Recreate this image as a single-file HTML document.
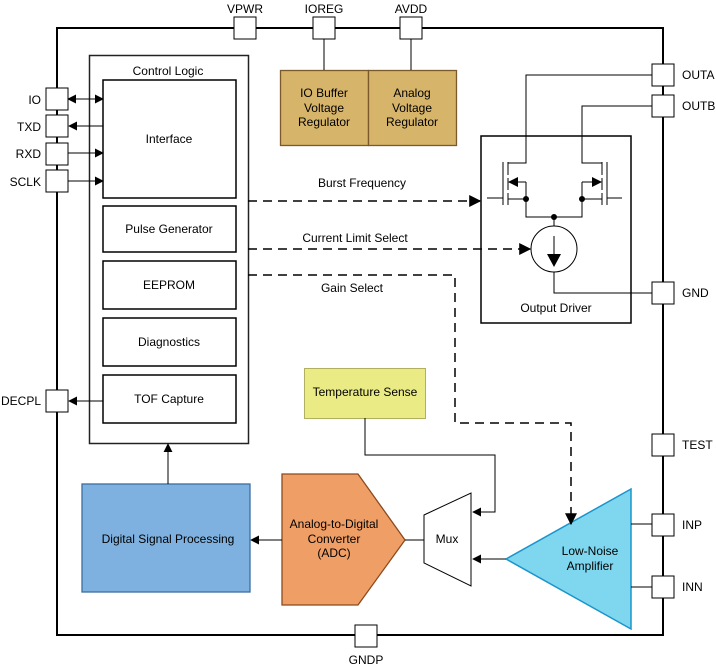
<!DOCTYPE html>
<html><head><meta charset="utf-8"><style>body{margin:0;background:#fff}svg{display:block}text{font-family:"Liberation Sans",sans-serif;font-size:12px;fill:#000}</style></head><body>
<svg width="716" height="668" viewBox="0 0 716 668" xmlns="http://www.w3.org/2000/svg">
<defs>
<marker id="a" viewBox="0 0 10 10" refX="9" refY="5" markerWidth="9" markerHeight="9" markerUnits="userSpaceOnUse" orient="auto-start-reverse"><path d="M0,0L10,5L0,10z" fill="#000"/></marker>
<marker id="b" viewBox="0 0 10 10" refX="9" refY="5" markerWidth="12" markerHeight="12" markerUnits="userSpaceOnUse" orient="auto"><path d="M0,0L10,5L0,10z" fill="#000"/></marker>
</defs>
<g fill="none" stroke="#000">
<rect x="57" y="28" width="606" height="607" stroke-width="2"/>
<rect x="89.5" y="55.5" width="159" height="388" stroke="#222" stroke-width="1.5"/>
<rect x="103" y="80" width="133" height="118" stroke-width="1.5"/>
<rect x="103" y="206" width="133" height="46" stroke-width="1.5"/>
<rect x="103" y="261" width="133" height="48" stroke-width="1.5"/>
<rect x="103" y="318" width="133" height="48" stroke-width="1.5"/>
<rect x="103" y="375" width="133" height="48" stroke-width="1.5"/>
<rect x="481" y="136" width="150" height="187" stroke-width="1.5"/>
</g>
<rect x="280.5" y="70.5" width="88" height="75" fill="#d6b46a" stroke="#7a5a2a" stroke-width="1.3"/>
<rect x="368.5" y="70.5" width="88" height="75" fill="#d6b46a" stroke="#7a5a2a" stroke-width="1.3"/>
<rect x="304.5" y="368.5" width="121" height="50" fill="#ebeb85" stroke="#b0b060" stroke-width="1"/>
<rect x="82" y="484" width="168" height="108" fill="#7eb1df" stroke="#3c6ea0" stroke-width="1.3"/>
<polygon points="282,474 358,474 405,540 358,605 282,605" fill="#ef9f66" stroke="#8a4a20" stroke-width="1.3"/>
<polygon points="424,515 471,493 471,586 424,563" fill="#fff" stroke="#000" stroke-width="1"/>
<polygon points="506,559 631,489 631,629" fill="#7fd7ef" stroke="#1a95cc" stroke-width="1.5"/>
<g fill="none" stroke="#000" stroke-width="1">
<line x1="324" y1="39" x2="324" y2="70"/>
<line x1="411" y1="39" x2="411" y2="70"/>
<line x1="68" y1="99" x2="103" y2="99" marker-start="url(#a)" marker-end="url(#a)"/>
<line x1="103" y1="126" x2="69" y2="126" marker-end="url(#a)"/>
<line x1="68" y1="153" x2="103" y2="153" marker-end="url(#a)"/>
<line x1="68" y1="181" x2="103" y2="181" marker-end="url(#a)"/>
<line x1="103" y1="401" x2="69" y2="401" marker-end="url(#a)"/>
<line x1="168" y1="484" x2="168" y2="444" marker-end="url(#a)"/>
<line x1="282" y1="540" x2="251" y2="540" marker-end="url(#a)"/>
<line x1="405" y1="540" x2="424" y2="540"/>
<polyline points="365,418 365,455 495,455 495,512 473,512" marker-end="url(#a)"/>
<line x1="506" y1="559" x2="473" y2="559" marker-end="url(#a)"/>
<line x1="631" y1="524" x2="652" y2="524"/>
<line x1="631" y1="587" x2="652" y2="587"/>
<g stroke-width="1.5" stroke-dasharray="9,6">
<line x1="248" y1="201" x2="480" y2="201" marker-end="url(#b)"/>
<line x1="248" y1="249" x2="530" y2="249" marker-end="url(#b)"/>
<polyline points="248,275 455,275 455,423 571,423 571,524" marker-end="url(#b)"/>
</g>
<polyline points="652,75 526,75 526,163 508,163"/>
<polyline points="652,106 582,106 582,163 602,163"/>
<line x1="503" y1="162" x2="503" y2="205"/>
<line x1="508" y1="162" x2="508" y2="175"/><line x1="508" y1="178" x2="508" y2="190"/><line x1="508" y1="193" x2="508" y2="205"/>
<line x1="487" y1="198" x2="503" y2="198"/>
<polyline points="526,182 526,217 582,217 582,182"/>
<line x1="526" y1="182" x2="516" y2="182"/><line x1="508" y1="199" x2="526" y2="199"/>
<line x1="607" y1="162" x2="607" y2="205"/>
<line x1="602" y1="162" x2="602" y2="175"/><line x1="602" y1="178" x2="602" y2="190"/><line x1="602" y1="193" x2="602" y2="205"/>
<line x1="607" y1="198" x2="622" y2="198"/>
<line x1="582" y1="182" x2="592" y2="182"/><line x1="582" y1="199" x2="602" y2="199"/>
<line x1="554" y1="217" x2="554" y2="226"/>
<circle cx="554" cy="249" r="23"/>
<polyline points="554,272 554,293 652,293"/>
<line x1="554" y1="236" x2="554" y2="255"/>
</g>
<g fill="#000">
<polygon points="508,182 518,177 518,187"/>
<polygon points="602,182 592,177 592,187"/>
<polygon points="547,254 561,254 554,267"/>
<circle cx="526" cy="199" r="3"/><circle cx="582" cy="199" r="3"/><circle cx="554" cy="217" r="3"/>
</g>
<g fill="#fff" stroke="#000" stroke-width="1">
<rect x="234" y="17" width="22" height="22"/><rect x="313" y="17" width="22" height="22"/><rect x="400" y="17" width="22" height="22"/>
<rect x="46" y="88" width="22" height="22"/><rect x="46" y="115" width="22" height="22"/><rect x="46" y="143" width="22" height="22"/><rect x="46" y="170" width="22" height="22"/><rect x="46" y="390" width="22" height="22"/>
<rect x="652" y="64" width="22" height="22"/><rect x="652" y="95" width="22" height="22"/><rect x="652" y="282" width="22" height="22"/><rect x="652" y="434" width="22" height="22"/><rect x="652" y="514" width="22" height="22"/><rect x="652" y="576" width="22" height="22"/>
<rect x="355" y="625" width="22" height="22"/>
</g>
<g text-anchor="middle">
<text x="245" y="13">VPWR</text><text x="324" y="13">IOREG</text><text x="411" y="13">AVDD</text>
<text x="366" y="664">GNDP</text>
<text x="168" y="75">Control Logic</text>
<text x="169" y="143">Interface</text>
<text x="169" y="233">Pulse Generator</text>
<text x="169" y="289">EEPROM</text>
<text x="169" y="346">Diagnostics</text>
<text x="169" y="403">TOF Capture</text>
<text x="324" y="97">IO Buffer</text><text x="324" y="112">Voltage</text><text x="324" y="126">Regulator</text>
<text x="412" y="97">Analog</text><text x="412" y="112">Voltage</text><text x="412" y="126">Regulator</text>
<text x="362" y="187">Burst Frequency</text>
<text x="355" y="242">Current Limit Select</text>
<text x="352" y="292">Gain Select</text>
<text x="556" y="312">Output Driver</text>
<text x="365" y="396">Temperature Sense</text>
<text x="168" y="543">Digital Signal Processing</text>
<text x="334" y="528">Analog-to-Digital</text><text x="334" y="543">Converter</text><text x="334" y="557">(ADC)</text>
<text x="447" y="543">Mux</text>
<text x="590" y="555">Low-Noise</text><text x="590" y="570">Amplifier</text>
</g>
<g text-anchor="end">
<text x="41" y="104">IO</text><text x="41" y="131">TXD</text><text x="41" y="158">RXD</text><text x="41" y="186">SCLK</text><text x="41" y="405">DECPL</text>
</g>
<text x="682" y="79">OUTA</text><text x="682" y="110">OUTB</text><text x="682" y="297">GND</text><text x="682" y="449">TEST</text><text x="682" y="529">INP</text><text x="682" y="591">INN</text>
</svg>
</body></html>
